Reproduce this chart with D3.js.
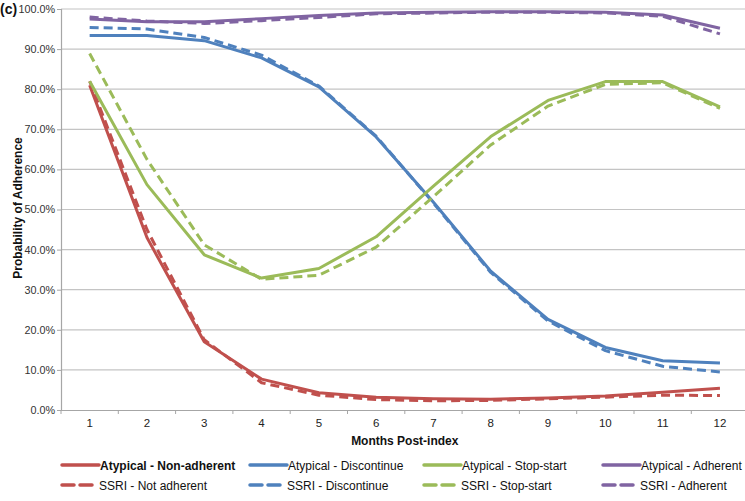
<!DOCTYPE html>
<html><head><meta charset="utf-8">
<script src="https://cdn.jsdelivr.net/npm/d3@7"></script>
<style>body{margin:0;background:#fff}svg{display:block;font-family:"Liberation Sans",Arial,sans-serif}</style>
</head><body>
<svg id="c" width="745" height="501"></svg>
<script>
const months = [1,2,3,4,5,6,7,8,9,10,11,12];
const yTicks = [0,10,20,30,40,50,60,70,80,90,100];
const atypicalNonAdherent = [81,43,17,7.7,4.3,3.2,2.8,2.7,3,3.5,4.4,5.4];
const ssriNotAdherent     = [82,45,17.5,6.8,3.7,2.6,2.3,2.4,2.8,3.2,3.7,3.6];
const atypicalDiscontinue = [93.4,93.4,92.1,87.8,80.6,68.1,51.8,34.6,22.6,15.6,12.3,11.7];
const ssriDiscontinue     = [95.4,95,92.9,88.5,80.8,68.3,51.6,34.3,22.2,14.8,10.9,9.5];
const atypicalStopStart   = [82,56.2,38.7,32.9,35.3,43.2,55.8,68.2,77.2,81.9,81.9,75.6];
const ssriStopStart       = [88.9,62.5,41.2,32.6,33.6,40.6,53.2,66.1,75.8,81.2,81.6,75.2];
const atypicalAdherent    = [97.5,96.8,96.8,97.6,98.4,99,99.2,99.3,99.3,99.2,98.5,95.2];
const ssriAdherent        = [98,97,96.4,97.1,97.9,98.8,99,99.2,99.2,99,98.2,93.8];

const series = [
  {name:"Atypical - Non-adherent", values:atypicalNonAdherent, color:"#c0504d", dash:false},
  {name:"SSRI - Not adherent", values:ssriNotAdherent, color:"#c0504d", dash:true},
  {name:"Atypical - Discontinue", values:atypicalDiscontinue, color:"#4f81bd", dash:false},
  {name:"SSRI - Discontinue", values:ssriDiscontinue, color:"#4f81bd", dash:true},
  {name:"Atypical - Stop-start", values:atypicalStopStart, color:"#9bbb59", dash:false},
  {name:"SSRI - Stop-start", values:ssriStopStart, color:"#9bbb59", dash:true},
  {name:"Atypical - Adherent", values:atypicalAdherent, color:"#8064a2", dash:false},
  {name:"SSRI - Adherent", values:ssriAdherent, color:"#8064a2", dash:true}
];

const svg = d3.select("#c");
const L = 61, R = 748.6, T = 9, B = 410;
const x = d3.scaleBand().domain(months).range([L,R]);
const y = d3.scaleLinear().domain([0,100]).range([B,T]);

// gridlines
svg.append("g").selectAll("line").data(yTicks.filter(d=>d>0)).join("line")
  .attr("x1",L).attr("x2",745).attr("y1",d=>y(d)).attr("y2",d=>y(d))
  .attr("stroke","#c4c4c4").attr("stroke-width",1.2);

// y axis
const yAxis = d3.axisLeft(y).tickValues(yTicks).tickFormat(d=>d.toFixed(1)+"%").tickSize(4).tickPadding(2);
const gy = svg.append("g").attr("transform",`translate(${L},0)`).call(yAxis);
gy.select(".domain").attr("stroke","#a6a6a6").attr("stroke-width",1.2);
gy.selectAll(".tick line").attr("stroke","#a6a6a6");
gy.selectAll("text").attr("font-size",10.8).attr("fill","#333");

// x axis
const xAxis = d3.axisBottom(x).tickSize(0).tickPadding(9);
const gx = svg.append("g").attr("transform",`translate(0,${B})`).call(xAxis);
gx.select(".domain").attr("stroke","#a6a6a6").attr("stroke-width",1.2);
gx.selectAll("text").attr("font-size",11.5).attr("fill","#222");
// category boundary ticks
gx.append("g").selectAll("line").data(months).join("line")
  .attr("x1",d=>x(d)).attr("x2",d=>x(d))
  .attr("y1",0).attr("y2",4).attr("stroke","#a6a6a6");

// lines
const line = d3.line().x((d,i)=>x(months[i])+x.bandwidth()/2).y(d=>y(d));
svg.append("g").selectAll("path").data(series).join("path")
  .attr("d",d=>line(d.values)).attr("fill","none")
  .attr("stroke",d=>d.color).attr("stroke-width",3)
  .attr("stroke-dasharray",d=>d.dash?"9,5":null)
  .attr("stroke-linejoin","round");

// titles
svg.append("text").attr("x",(L+R)/2).attr("y",445).attr("text-anchor","middle")
  .attr("font-size",12).attr("font-weight","bold").attr("fill","#111").text("Months Post-index");
svg.append("text").attr("transform","translate(22,208) rotate(-90)").attr("text-anchor","middle")
  .attr("font-size",12).attr("font-weight","bold").attr("fill","#111").text("Probability of Adherence");
svg.append("text").attr("x",0).attr("y",14).attr("font-size",14).attr("font-weight","bold").attr("fill","#111").text("(c)");

// legend
const colX = [62,250,424,603];
const rowY = [465,485];
const leg = svg.append("g").selectAll("g").data(series).join("g")
  .attr("transform",(d,i)=>`translate(${colX[Math.floor(i/2)]},${rowY[i%2]})`);
leg.append("line").attr("x1",0).attr("x2",d=>d.dash?31:37).attr("y1",0).attr("y2",0)
  .attr("stroke",d=>d.color).attr("stroke-width",3.5)
  .attr("stroke-dasharray",d=>d.dash?"12,6":null).attr("stroke-linecap","round");
leg.append("text").attr("x",d=>d.dash?37:38).attr("y",4.5).attr("font-size",12).attr("fill","#111")
  .attr("font-weight",(d,i)=>i===0?"bold":"normal").text(d=>d.name);
</script>
</body></html>
